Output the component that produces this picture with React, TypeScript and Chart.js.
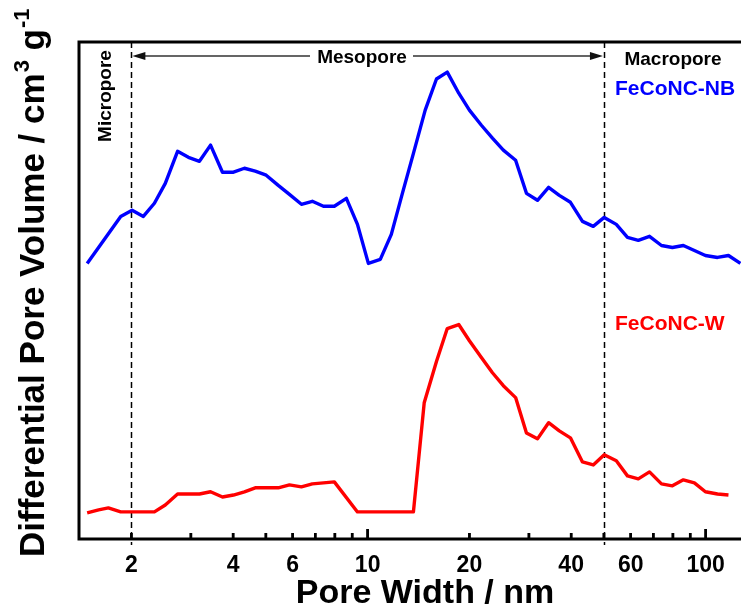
import React, { useEffect, useRef } from "react";
import { Chart, registerables } from "chart.js";

Chart.register(...registerables);

// Pore width (nm) and differential pore volume (normalised, a.u.)
const poreWidthNB = [1.48, 1.86, 2.01, 2.17, 2.34, 2.52, 2.74, 2.95, 3.18, 3.43, 3.72, 4.01, 4.32, 4.65, 5.01, 5.44, 5.87, 6.37, 6.86, 7.4, 7.97, 8.65, 9.33, 10.05, 10.9, 11.75, 12.67, 13.66, 14.8, 15.98, 17.2, 18.6, 20, 21.7, 23.4, 25.2, 27.4, 29.5, 31.8, 34.3, 36.9, 39.8, 43.2, 46.5, 50.1, 54.4, 58.7, 63.2, 68.2, 74.0, 79.7, 85.9, 92.6, 99.8, 108.4, 116.8, 126.7];
const volumeNB = [0.109, 0.298, 0.323, 0.298, 0.351, 0.431, 0.56, 0.536, 0.52, 0.585, 0.476, 0.476, 0.492, 0.48, 0.464, 0.423, 0.387, 0.347, 0.359, 0.339, 0.339, 0.371, 0.266, 0.109, 0.125, 0.226, 0.391, 0.552, 0.726, 0.851, 0.879, 0.794, 0.726, 0.665, 0.613, 0.565, 0.524, 0.391, 0.363, 0.415, 0.383, 0.355, 0.278, 0.258, 0.294, 0.266, 0.214, 0.202, 0.218, 0.181, 0.173, 0.181, 0.161, 0.141, 0.133, 0.141, 0.109];

const poreWidthW = [1.48, 1.6, 1.71, 1.86, 2.01, 2.17, 2.34, 2.52, 2.74, 2.95, 3.18, 3.43, 3.72, 4.01, 4.32, 4.65, 5.01, 5.44, 5.87, 6.37, 6.86, 7.4, 7.97, 9.33, 10.05, 10.9, 11.75, 12.67, 13.66, 14.7, 15.98, 17.2, 18.6, 20, 21.7, 23.4, 25.2, 27.4, 29.5, 31.8, 34.3, 36.9, 39.8, 43.2, 46.5, 50.1, 54.4, 58.7, 63.2, 68.2, 74.0, 79.7, 85.9, 92.6, 99.8, 108.4, 116.8];
const volumeW = [0.105, 0.117, 0.125, 0.109, 0.109, 0.109, 0.109, 0.137, 0.181, 0.181, 0.181, 0.19, 0.169, 0.177, 0.19, 0.206, 0.206, 0.206, 0.218, 0.21, 0.222, 0.226, 0.23, 0.109, 0.109, 0.109, 0.109, 0.109, 0.109, 0.548, 0.714, 0.847, 0.863, 0.798, 0.73, 0.669, 0.617, 0.569, 0.427, 0.403, 0.468, 0.435, 0.407, 0.31, 0.298, 0.339, 0.315, 0.254, 0.242, 0.27, 0.222, 0.214, 0.238, 0.226, 0.19, 0.181, 0.177];

const xTickLabels = [2, 4, 6, 10, 20, 40, 60, 100];
const minorTicks = [2, 3, 4, 5, 6, 7, 8, 9, 20, 30, 40, 50, 60, 70, 80, 90];
const majorTicks = [10, 100];
const regionBounds = [2, 50];

const FONT = '"Liberation Sans", Arial, Helvetica, sans-serif';

const overlayPlugin = {
  id: "overlay",
  beforeDatasetsDraw(chart: any) {
    const { ctx, chartArea } = chart;
    const xs = chart.scales.x;
    ctx.save();
    ctx.strokeStyle = "#000";
    ctx.lineWidth = 1.5;
    ctx.setLineDash([6, 4]);
    regionBounds.forEach((v) => {
      const px = Math.round(xs.getPixelForValue(v)) + 0.5;
      ctx.beginPath();
      ctx.moveTo(px, chartArea.top);
      ctx.lineTo(px, chartArea.bottom + 6);
      ctx.stroke();
    });
    ctx.restore();
  },
  afterDatasetsDraw(chart: any) {
    const { ctx, chartArea } = chart;
    const xs = chart.scales.x;
    const mid = chart.scales.yTop.getPixelForValue(-1);
    const { left, right, top, bottom } = chartArea;
    ctx.save();
    // spines
    ctx.strokeStyle = "#000";
    ctx.lineWidth = 3;
    ctx.setLineDash([]);
    ctx.beginPath();
    ctx.moveTo(left - 1.5, top);
    ctx.lineTo(right + 2, top);
    ctx.moveTo(left, top);
    ctx.lineTo(left, bottom + 1.5);
    ctx.moveTo(left - 1.5, mid);
    ctx.lineTo(right + 2, mid);
    ctx.moveTo(left - 1.5, bottom);
    ctx.lineTo(right + 2, bottom);
    ctx.stroke();
    // inward ticks on both horizontal axes
    ctx.lineWidth = 2.5;
    [mid, bottom].forEach((y) => {
      minorTicks.forEach((v) => {
        const px = xs.getPixelForValue(v);
        ctx.beginPath();
        ctx.moveTo(px, y);
        ctx.lineTo(px, y - 6);
        ctx.stroke();
      });
      majorTicks.forEach((v) => {
        const px = xs.getPixelForValue(v);
        ctx.beginPath();
        ctx.moveTo(px, y);
        ctx.lineTo(px, y - 10);
        ctx.stroke();
      });
    });
    // tick labels
    ctx.fillStyle = "#000";
    ctx.font = `bold 23px ${FONT}`;
    ctx.textAlign = "center";
    ctx.textBaseline = "alphabetic";
    xTickLabels.forEach((v) => {
      ctx.fillText(String(v), xs.getPixelForValue(v), 572);
    });
    // x title
    ctx.font = `bold 34px ${FONT}`;
    ctx.fillText("Pore Width / nm", 425, 603);

    // y title with superscripts
    ctx.save();
    ctx.translate(44, 557);
    ctx.rotate(-Math.PI / 2);
    ctx.textAlign = "left";
    const big = `bold 35px ${FONT}`;
    const small = `bold 22px ${FONT}`;
    let cx = 0;
    ctx.font = big;
    const t1 = "Differential Pore Volume / cm";
    ctx.fillText(t1, cx, 0);
    cx += ctx.measureText(t1).width;
    ctx.font = small;
    ctx.fillText("3", cx + 1, -15);
    cx += ctx.measureText("3").width + 1;
    ctx.font = big;
    ctx.fillText(" g", cx, 0);
    cx += ctx.measureText(" g").width;
    ctx.font = small;
    ctx.fillText("-1", cx + 1, -15);
    ctx.restore();

    // annotations
    ctx.font = `bold 19px ${FONT}`;
    ctx.textAlign = "center";
    ctx.fillText("Macropore", 673, 65);
    ctx.fillText("Mesopore", 362, 63);
    ctx.save();
    ctx.translate(111, 96);
    ctx.rotate(-Math.PI / 2);
    ctx.fillText("Micropore", 0, 0);
    ctx.restore();

    ctx.textAlign = "left";
    ctx.font = `bold 21px ${FONT}`;
    ctx.fillStyle = "#0000ff";
    ctx.fillText("FeCoNC-NB", 615, 95);
    ctx.fillStyle = "#ff0000";
    ctx.fillText("FeCoNC-W", 615, 330);

    // mesopore arrow
    const ax1 = xs.getPixelForValue(regionBounds[0]) + 1;
    const ax2 = xs.getPixelForValue(regionBounds[1]) - 1;
    const ay = 56;
    ctx.strokeStyle = "#333";
    ctx.fillStyle = "#111";
    ctx.lineWidth = 1.5;
    ctx.beginPath();
    ctx.moveTo(ax1 + 10, ay);
    ctx.lineTo(310, ay);
    ctx.moveTo(413, ay);
    ctx.lineTo(ax2 - 10, ay);
    ctx.stroke();
    ctx.beginPath();
    ctx.moveTo(ax1, ay);
    ctx.lineTo(ax1 + 13, ay - 4);
    ctx.lineTo(ax1 + 13, ay + 4);
    ctx.closePath();
    ctx.fill();
    ctx.beginPath();
    ctx.moveTo(ax2, ay);
    ctx.lineTo(ax2 - 13, ay - 4);
    ctx.lineTo(ax2 - 13, ay + 4);
    ctx.closePath();
    ctx.fill();
    ctx.restore();
  },
};

export default function App() {
  const canvasRef = useRef<HTMLCanvasElement | null>(null);

  useEffect(() => {
    if (!canvasRef.current) return;
    const chart = new Chart(canvasRef.current, {
      type: "line",
      data: {
        datasets: [
          {
            label: "FeCoNC-NB",
            data: poreWidthNB.map((x, i) => ({ x, y: volumeNB[i] })),
            borderColor: "#0000ff",
            borderWidth: 3.4,
            yAxisID: "yTop",
            pointRadius: 0,
            tension: 0,
            borderJoinStyle: "round",
          },
          {
            label: "FeCoNC-W",
            data: poreWidthW.map((x, i) => ({ x, y: volumeW[i] })),
            borderColor: "#ff0000",
            borderWidth: 3.4,
            yAxisID: "yBot",
            pointRadius: 0,
            tension: 0,
            borderJoinStyle: "round",
          },
        ],
      },
      options: {
        responsive: false,
        animation: false,
        layout: { padding: { left: 79, right: 0, top: 42, bottom: 69 } },
        scales: {
          x: { type: "logarithmic", min: 1.4, max: 127.2, display: false },
          yTop: { type: "linear", min: -1, max: 1, display: false },
          yBot: { type: "linear", min: 0, max: 2, display: false },
        },
        plugins: { legend: { display: false }, tooltip: { enabled: false } },
      },
      plugins: [overlayPlugin],
    });
    return () => chart.destroy();
  }, []);

  return (
    <div style={{ position: "absolute", left: 0, top: 0, width: 741, height: 608, background: "#fff" }}>
      <canvas ref={canvasRef} width={741} height={608} style={{ width: 741, height: 608 }} />
    </div>
  );
}
